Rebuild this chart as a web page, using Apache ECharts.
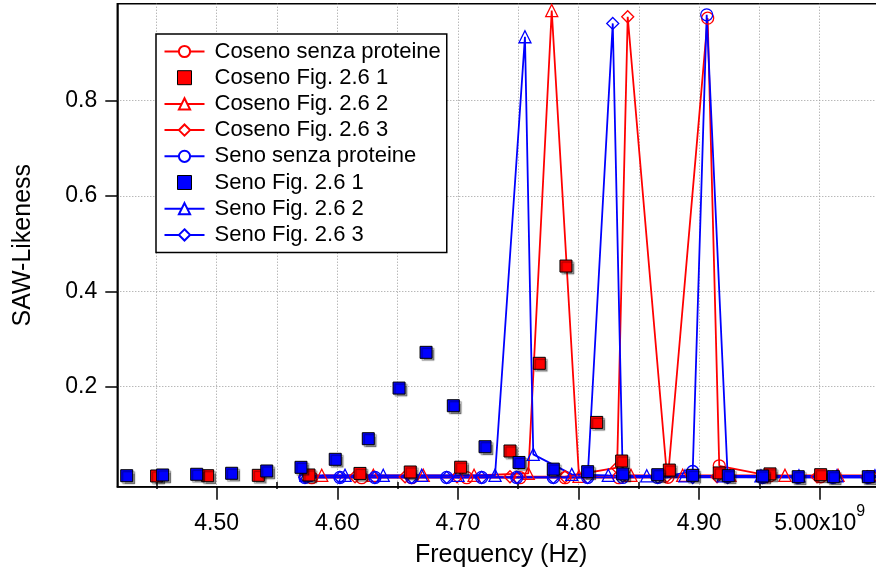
<!DOCTYPE html>
<html>
<head>
<meta charset="utf-8">
<title>SAW-Likeness</title>
<script src="https://cdn.jsdelivr.net/npm/echarts@6/dist/echarts.min.js"></script>
<style>
  html, body { margin: 0; padding: 0; background: #fff; }
  #chart { width: 876px; height: 574px; }
</style>
</head>
<body>
<div id="chart"></div>
<script>
// Frequencies in units of 1e9 Hz, SAW-likeness values (dimensionless)
const xMajorTicks = [4.5, 4.6, 4.7, 4.8, 4.9, 5.0];
const xMinorTicks = [4.45, 4.55, 4.65, 4.75, 4.85, 4.95];
const yTicks = [0.2, 0.4, 0.6, 0.8];

const cosSenzaFreq = [4.5788, 4.6202, 4.6617, 4.7073, 4.7515, 4.7888, 4.8336, 4.8742, 4.9071, 4.9167, 4.9588, 5.0008, 5.0425, 5.0840];
const cosSenzaVal  = [0.009, 0.009, 0.009, 0.009, 0.009, 0.009, 0.009, 0.010, 0.973, 0.034, 0.013, 0.011, 0.011, 0.011];

const cosFig1Freq = [4.4502, 4.4925, 4.5345, 4.5765, 4.6188, 4.6605, 4.7023, 4.7432, 4.7675, 4.7896, 4.8151, 4.8358, 4.8753, 4.9167, 4.9588, 5.0008];
const cosFig1Val  = [0.0126, 0.0132, 0.014, 0.0147, 0.018, 0.021, 0.031, 0.065, 0.249, 0.453, 0.125, 0.044, 0.025, 0.019, 0.017, 0.0153];

const cosFig2Freq = [4.5871, 4.6299, 4.6713, 4.7134, 4.7584, 4.7778, 4.8004, 4.8435, 4.8864, 4.9256, 4.9712, 5.0152, 5.0583];
const cosFig2Val  = [0.014, 0.014, 0.014, 0.014, 0.018, 0.989, 0.012, 0.014, 0.014, 0.014, 0.014, 0.014, 0.014];

const cosFig3Freq = [4.5732, 4.6147, 4.6562, 4.6993, 4.7432, 4.7888, 4.8320, 4.8408, 4.8734, 4.9149, 4.9564, 4.9978, 5.0393, 5.0808];
const cosFig3Val  = [0.011, 0.011, 0.011, 0.011, 0.011, 0.011, 0.030, 0.976, 0.012, 0.011, 0.011, 0.011, 0.011, 0.011];

const sinSenzaFreq = [4.5732, 4.6022, 4.6312, 4.6617, 4.6907, 4.7197, 4.7488, 4.7791, 4.8076, 4.8367, 4.8657, 4.8947, 4.9063, 4.9237, 4.9527, 4.9820, 5.0110, 5.0400, 5.0691];
const sinSenzaVal  = [0.0095, 0.0095, 0.0095, 0.0095, 0.0095, 0.0095, 0.0095, 0.0095, 0.0095, 0.0095, 0.0095, 0.022, 0.980, 0.011, 0.0095, 0.0095, 0.0095, 0.0095, 0.0095];

const sinFig1Freq = [4.4254, 4.4552, 4.4834, 4.5124, 4.5415, 4.5699, 4.5983, 4.6257, 4.6512, 4.6736, 4.6962, 4.7225, 4.7507, 4.7791, 4.8076, 4.8367, 4.8657, 4.8947, 4.9242, 4.9527, 4.9822, 5.0113, 5.0403];
const sinFig1Val  = [0.0132, 0.0147, 0.0162, 0.0183, 0.0231, 0.0308, 0.0476, 0.0908, 0.197, 0.272, 0.160, 0.074, 0.041, 0.027, 0.0216, 0.0168, 0.0153, 0.014, 0.0132, 0.0126, 0.0111, 0.0111, 0.0111];

const sinFig2Freq = [4.5740, 4.6064, 4.6381, 4.6700, 4.7001, 4.7308, 4.7556, 4.7625, 4.7944, 4.8247, 4.8566, 4.8883, 4.9198, 4.9513, 4.9828, 5.0143, 5.0458, 5.0773];
const sinFig2Val  = [0.014, 0.014, 0.014, 0.014, 0.014, 0.014, 0.934, 0.058, 0.016, 0.014, 0.013, 0.013, 0.013, 0.013, 0.013, 0.013, 0.013, 0.013];

const sinFig3Freq = [4.5732, 4.6022, 4.6312, 4.6617, 4.6907, 4.7197, 4.7488, 4.7791, 4.8076, 4.8284, 4.8367, 4.8657, 4.8947, 4.9237, 4.9527, 4.9820, 5.0110, 5.0400, 5.0691];
const sinFig3Val  = [0.0095, 0.0095, 0.0095, 0.0095, 0.0095, 0.0095, 0.0095, 0.0095, 0.0095, 0.962, 0.012, 0.0095, 0.0095, 0.0095, 0.0095, 0.0095, 0.0095, 0.0095, 0.0095];

const RED = '#ff0000';
const BLUE = '#0000ff';
const FONT = 'Liberation Sans, Arial, Helvetica, sans-serif';
const SQUARE_ICON = 'path://M0,0h10v10h-10z';

function pairs(fs, vs) { return fs.map((f, i) => [f, vs[i]]); }

function lineSeries(name, color, symbol, fs, vs) {
  return {
    name: name, type: 'line', data: pairs(fs, vs),
    symbol: symbol, symbolSize: 12, showAllSymbol: true,
    lineStyle: { color: color, width: 1.8 },
    itemStyle: { color: 'rgba(255,255,255,0)', borderColor: color, borderWidth: 1.3, opacity: 1 },
    emphasis: { disabled: true }, z: 2
  };
}

function squareSeries(name, color, fs, vs, z) {
  return {
    name: name, type: 'scatter', data: pairs(fs, vs),
    symbol: 'rect', symbolSize: 12,
    itemStyle: {
      color: color, borderColor: '#000', borderWidth: 1, opacity: 1,
      shadowColor: 'rgba(0,0,0,0.4)', shadowBlur: 1, shadowOffsetX: 2, shadowOffsetY: 2
    },
    emphasis: { disabled: true }, z: z
  };
}

const legendNames = [
  'Coseno senza proteine', 'Coseno Fig. 2.6 1', 'Coseno Fig. 2.6 2', 'Coseno Fig. 2.6 3',
  'Seno senza proteine', 'Seno Fig. 2.6 1', 'Seno Fig. 2.6 2', 'Seno Fig. 2.6 3'
];
const legendSquareColors = { 1: RED, 5: BLUE };

const chart = echarts.init(document.getElementById('chart'), null, { renderer: 'canvas' });

const gridLine = { show: true, lineStyle: { color: '#9a9a9a', type: [1, 2], width: 1 } };

chart.setOption({
  animation: false,
  backgroundColor: '#fff',
  textStyle: { fontFamily: FONT, color: '#000' },
  grid: {
    left: 117.3, top: 3.7, right: -2, bottom: 87.3,
    show: true, borderColor: '#000', borderWidth: 1.5,
    outerBoundsMode: 'none', containLabel: false
  },
  legend: {
    orient: 'vertical', left: 156, top: 34,
    itemWidth: 40, itemHeight: 14, itemGap: 4.2,
    padding: [6.5, 6, 6.5, 7.5],
    backgroundColor: '#fff', borderColor: '#000', borderWidth: 1.5,
    selectedMode: false, symbolKeepAspect: true,
    textStyle: { fontFamily: FONT, fontSize: 22, lineHeight: 22, color: '#000', padding: [0, 0, 0, 5] },
    data: legendNames.map((n, i) => legendSquareColors[i]
      ? { name: n, icon: SQUARE_ICON, itemStyle: { color: legendSquareColors[i], borderColor: '#000', borderWidth: 1, shadowBlur: 0, shadowOffsetX: 0, shadowOffsetY: 0, shadowColor: 'rgba(0,0,0,0)' } }
      : { name: n, itemStyle: { color: '#fff' } })
  },
  xAxis: [
    {
      type: 'value', min: 4.41758, max: 5.04834,
      axisLine: { show: true, onZero: false, lineStyle: { color: '#000', width: 1.5 } },
      axisTick: { show: true, inside: false, length: 13, customValues: xMajorTicks, lineStyle: { color: '#000', width: 1.5 } },
      axisLabel: {
        customValues: xMajorTicks, margin: 17,
        formatter: v => Math.abs(v - 5.0) < 1e-9 ? '{n|5.00x10}{s|9}' : '{n|' + v.toFixed(2) + '}',
        rich: {
          n: { fontFamily: FONT, fontSize: 23, lineHeight: 39, color: '#000' },
          s: { fontFamily: FONT, fontSize: 16, lineHeight: 16, verticalAlign: 'top', color: '#000' }
        }
      },
      splitLine: gridLine,
      name: 'Frequency (Hz)', nameLocation: 'middle', nameGap: 56,
      nameTextStyle: { fontFamily: FONT, fontSize: 25, color: '#000', padding: [0, 0, 0, 7] }
    },
    {
      type: 'value', min: 4.41758, max: 5.04834, position: 'bottom',
      axisLine: { show: false },
      axisTick: { show: true, inside: false, length: 7, customValues: xMinorTicks, lineStyle: { color: '#000', width: 1.5 } },
      axisLabel: { show: false },
      splitLine: gridLine
    }
  ],
  yAxis: {
    type: 'value', min: -0.00986, max: 1.00336,
    axisLine: { show: true, onZero: false, lineStyle: { color: '#000', width: 1.5 } },
    axisTick: { show: true, inside: false, length: 12, customValues: yTicks, lineStyle: { color: '#000', width: 1.5 } },
    axisLabel: { customValues: yTicks, margin: 20, fontFamily: FONT, fontSize: 23, color: '#000', formatter: v => v.toFixed(1) },
    splitLine: gridLine,
    name: 'SAW-Likeness', nameLocation: 'middle', nameGap: 82, nameRotate: 90,
    nameTextStyle: { fontFamily: FONT, fontSize: 25, color: '#000' }
  },
  series: [
    lineSeries(legendNames[0], RED, 'circle', cosSenzaFreq, cosSenzaVal),
    squareSeries(legendNames[1], RED, cosFig1Freq, cosFig1Val, 4),
    lineSeries(legendNames[2], RED, 'triangle', cosFig2Freq, cosFig2Val),
    lineSeries(legendNames[3], RED, 'diamond', cosFig3Freq, cosFig3Val),
    lineSeries(legendNames[4], BLUE, 'circle', sinSenzaFreq, sinSenzaVal),
    squareSeries(legendNames[5], BLUE, sinFig1Freq, sinFig1Val, 5),
    lineSeries(legendNames[6], BLUE, 'triangle', sinFig2Freq, sinFig2Val),
    lineSeries(legendNames[7], BLUE, 'diamond', sinFig3Freq, sinFig3Val)
  ]
});
</script>
</body>
</html>
